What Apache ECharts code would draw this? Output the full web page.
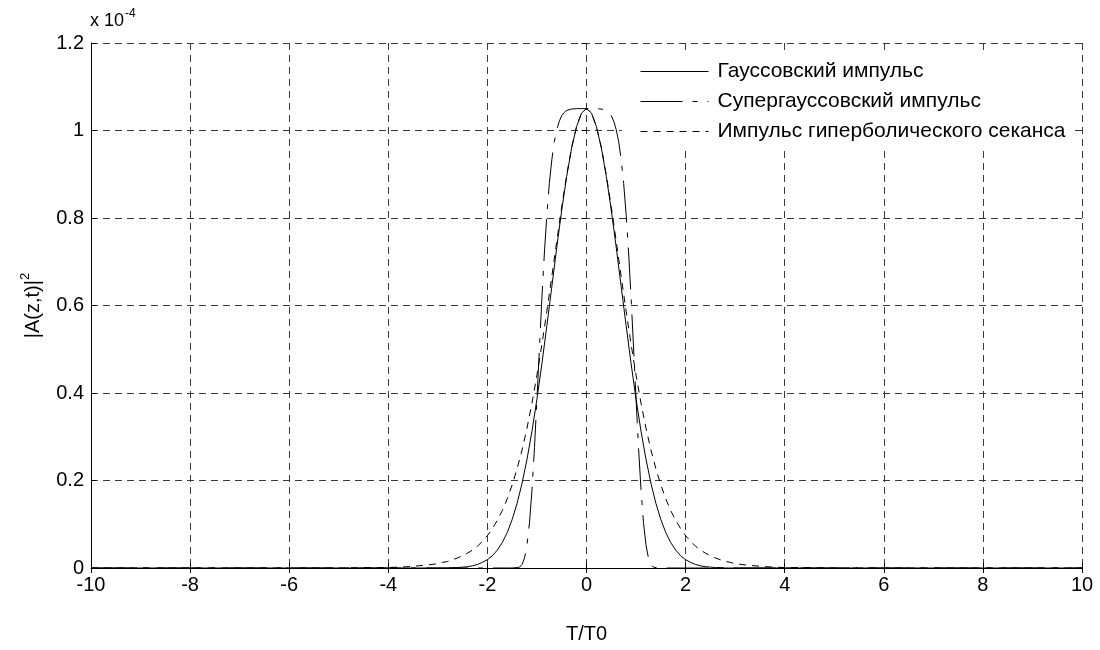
<!DOCTYPE html>
<html>
<head>
<meta charset="utf-8">
<script src="https://cdn.jsdelivr.net/npm/echarts@6/dist/echarts.min.js"></script>
<style>
  html, body { margin: 0; padding: 0; background: #fff; }
  #chart { width: 1100px; height: 650px; }
</style>
</head>
<body>
<div id="chart"></div>
<script>
// Pulse intensity |A(z,t)|^2 (in units of 1e-4) versus normalised time T/T0

const seriesNames = [
  'Гауссовский импульс',
  'Супергауссовский импульс',
  'Импульс гиперболического секанса'
];

// Shared time grid for the Gaussian and sech pulses
const tGrid = [
  -10, -6, -5, -4.5, -4, -3.8, -3.6, -3.4, -3.2,
  -3.0, -2.9, -2.8, -2.7, -2.6, -2.5, -2.4, -2.3, -2.2, -2.1,
  -2.0, -1.9, -1.8, -1.7, -1.6, -1.5, -1.4, -1.3, -1.2, -1.1,
  -1.0, -0.9, -0.8, -0.7, -0.6, -0.5, -0.4, -0.3, -0.2, -0.1,
  0,
  0.1, 0.2, 0.3, 0.4, 0.5, 0.6, 0.7, 0.8, 0.9, 1.0,
  1.1, 1.2, 1.3, 1.4, 1.5, 1.6, 1.7, 1.8, 1.9, 2.0,
  2.1, 2.2, 2.3, 2.4, 2.5, 2.6, 2.7, 2.8, 2.9, 3.0,
  3.2, 3.4, 3.6, 3.8, 4, 4.5, 5, 6, 10
];

const gaussVals = [
  0, 0, 0, 0, 0, 0, 0, 0, 0,
  0.000, 0.000, 0.000, 0.001, 0.001, 0.002, 0.003, 0.005, 0.008, 0.013,
  0.019, 0.028, 0.041, 0.058, 0.081, 0.111, 0.148, 0.194, 0.249, 0.313,
  0.386, 0.467, 0.554, 0.643, 0.733, 0.818, 0.895, 0.960, 1.009, 1.040,
  1.050,
  1.040, 1.009, 0.960, 0.895, 0.818, 0.733, 0.643, 0.554, 0.467, 0.386,
  0.313, 0.249, 0.194, 0.148, 0.111, 0.081, 0.058, 0.041, 0.028, 0.019,
  0.013, 0.008, 0.005, 0.003, 0.002, 0.001, 0.001, 0.000, 0.000, 0.000,
  0, 0, 0, 0, 0, 0, 0, 0, 0
];

const sechVals = [
  0, 0, 0, 0.001, 0.001, 0.002, 0.003, 0.005, 0.007,
  0.010, 0.013, 0.015, 0.019, 0.023, 0.028, 0.034, 0.041, 0.050, 0.061,
  0.074, 0.090, 0.109, 0.131, 0.158, 0.190, 0.227, 0.270, 0.320, 0.377,
  0.441, 0.511, 0.587, 0.666, 0.747, 0.826, 0.898, 0.961, 1.009, 1.040,
  1.050,
  1.040, 1.009, 0.961, 0.898, 0.826, 0.747, 0.666, 0.587, 0.511, 0.441,
  0.377, 0.320, 0.270, 0.227, 0.190, 0.158, 0.131, 0.109, 0.090, 0.074,
  0.061, 0.050, 0.041, 0.034, 0.028, 0.023, 0.019, 0.015, 0.013, 0.010,
  0.007, 0.005, 0.003, 0.002, 0.001, 0.001, 0, 0, 0
];

// Finer time grid for the steep-edged super-Gaussian pulse
const tSuper = [
  -10, -4, -2, -1.6, -1.5, -1.4, -1.35, -1.3, -1.25, -1.2, -1.15, -1.1, -1.05,
  -1.0, -0.95, -0.9, -0.85, -0.8, -0.75, -0.7, -0.65, -0.6, -0.55, -0.5, -0.45,
  -0.4, -0.3, -0.2, -0.1, 0,
  0.1, 0.2, 0.3, 0.4, 0.45, 0.5, 0.55, 0.6, 0.65, 0.7, 0.75, 0.8, 0.85, 0.9,
  0.95, 1.0, 1.05, 1.1, 1.15, 1.2, 1.25, 1.3, 1.35, 1.4, 1.5, 1.6, 2, 4, 10
];

const superVals = [
  0, 0, 0, 0, 0.000, 0.001, 0.002, 0.008, 0.023, 0.053, 0.104, 0.179, 0.275,
  0.386, 0.503, 0.617, 0.720, 0.808, 0.879, 0.933, 0.974, 1.002, 1.021, 1.034, 1.041,
  1.046, 1.049, 1.050, 1.050, 1.050,
  1.050, 1.050, 1.049, 1.046, 1.041, 1.034, 1.021, 1.002, 0.974, 0.933, 0.879, 0.808, 0.720, 0.617,
  0.503, 0.386, 0.275, 0.179, 0.104, 0.053, 0.023, 0.008, 0.002, 0.001, 0.000, 0, 0, 0, 0
];

const xTicks = { min: -10, max: 10, interval: 2 };
const yTicks = { min: 0, max: 1.2, interval: 0.2 };

const pairs = (xs, ys) => xs.map((x, i) => [x, ys[i]]);

const FONT = '"Liberation Sans", Arial, sans-serif';
const gridDash = { color: '#3a3a3a', width: 1, type: [7, 5] };

const chart = echarts.init(document.getElementById('chart'), null, { renderer: 'canvas' });

chart.setOption({
  backgroundColor: '#ffffff',
  animation: false,
  textStyle: { fontFamily: FONT, color: '#000' },
  grid: { left: 91, right: 18, top: 43, bottom: 82, containLabel: false },
  xAxis: [
    {
      type: 'value',
      min: xTicks.min, max: xTicks.max, interval: xTicks.interval,
      position: 'bottom',
      name: 'T/T0',
      nameLocation: 'middle',
      nameGap: 56,
      nameTextStyle: { fontFamily: FONT, fontSize: 20, color: '#000' },
      axisLine: { show: true, onZero: false, lineStyle: { color: '#000', width: 1 } },
      axisTick: { show: true, inside: true, length: 5, lineStyle: { color: '#000' } },
      axisLabel: { fontFamily: FONT, fontSize: 20, color: '#000', margin: 7 },
      splitLine: { show: true, lineStyle: gridDash }
    },
    {
      type: 'value',
      min: xTicks.min, max: xTicks.max, interval: xTicks.interval,
      position: 'top',
      axisLine: { show: false },
      axisTick: { show: true, inside: true, length: 5, lineStyle: { color: '#000' } },
      axisLabel: { show: false },
      splitLine: { show: false }
    }
  ],
  yAxis: [
    {
      type: 'value',
      min: yTicks.min, max: yTicks.max, interval: yTicks.interval,
      position: 'left',
      name: '{b||A(z,t)|}{sup|2}',
      nameLocation: 'middle',
      nameGap: 48,
      nameRotate: 90,
      nameTextStyle: {
        fontFamily: FONT, fontSize: 20, color: '#000',
        rich: {
          b: { fontFamily: FONT, fontSize: 20, color: '#000', verticalAlign: 'bottom', lineHeight: 24 },
          sup: { fontFamily: FONT, fontSize: 13, color: '#000', verticalAlign: 'bottom', lineHeight: 24, padding: [0, 0, 11, 0] }
        }
      },
      axisLine: { show: true, onZero: false, lineStyle: { color: '#000', width: 1 } },
      axisTick: { show: true, inside: true, length: 5, lineStyle: { color: '#000' } },
      axisLabel: { fontFamily: FONT, fontSize: 20, color: '#000', margin: 7 },
      splitLine: { show: true, lineStyle: gridDash }
    },
    {
      type: 'value',
      min: yTicks.min, max: yTicks.max, interval: yTicks.interval,
      position: 'right',
      axisLine: { show: false },
      axisTick: { show: true, inside: true, length: 5, lineStyle: { color: '#000' } },
      axisLabel: { show: false },
      splitLine: { show: false }
    }
  ],
  legend: {
    data: seriesNames,
    orient: 'vertical',
    left: 622,
    top: 51,
    padding: [10, 8, 8, 18],
    itemGap: 9,
    itemWidth: 68,
    itemHeight: 14,
    backgroundColor: '#ffffff',
    borderWidth: 0,
    itemStyle: { opacity: 0 },
    lineStyle: { width: 1 },
    textStyle: { fontFamily: FONT, fontSize: 21, color: '#000', lineHeight: 21, padding: [0, 0, 0, 4] },
    selectedMode: false
  },
  graphic: [
    {
      type: 'text',
      left: 90,
      top: 8,
      style: {
        text: '{m|x 10}{s|-4}',
        fill: '#000',
        font: '18px ' + FONT,
        rich: {
          m: { fontFamily: FONT, fontSize: 18, fill: '#000', verticalAlign: 'bottom', lineHeight: 24 },
          s: { fontFamily: FONT, fontSize: 12, fill: '#000', verticalAlign: 'bottom', lineHeight: 24, padding: [0, 0, 10, 1] }
        }
      }
    }
  ],
  series: [
    {
      name: seriesNames[0],
      type: 'line',
      data: pairs(tGrid, gaussVals),
      symbol: 'none',
      lineStyle: { color: '#000', width: 1, type: 'solid' },
      itemStyle: { color: '#000' },
      z: 3
    },
    {
      name: seriesNames[1],
      type: 'line',
      data: pairs(tSuper, superVals),
      symbol: 'none',
      lineStyle: { color: '#000', width: 1, type: [42, 10, 5, 10] },
      itemStyle: { color: '#000' },
      z: 3
    },
    {
      name: seriesNames[2],
      type: 'line',
      data: pairs(tGrid, sechVals),
      symbol: 'none',
      lineStyle: { color: '#000', width: 1, type: [7, 6] },
      itemStyle: { color: '#000' },
      z: 3
    }
  ]
});
</script>
</body>
</html>
